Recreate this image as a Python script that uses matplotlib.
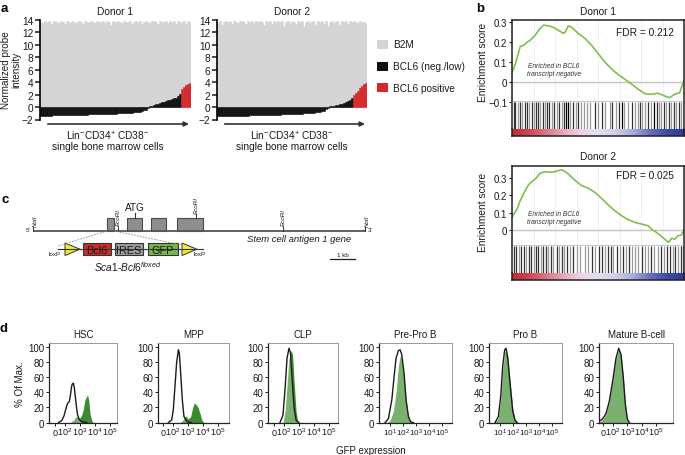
import matplotlib
matplotlib.use('Agg')
import matplotlib.pyplot as plt
import numpy as np
from matplotlib.patches import Rectangle, Polygon
from matplotlib.colors import LinearSegmentedColormap
from matplotlib.ticker import MultipleLocator

plt.rcParams['font.family'] = ['Liberation Sans', 'DejaVu Sans']
plt.rcParams['mathtext.fontset'] = 'custom'
plt.rcParams['mathtext.rm'] = 'Liberation Sans'
plt.rcParams['mathtext.it'] = 'Liberation Sans:italic'
plt.rcParams['mathtext.bf'] = 'Liberation Sans:bold'

# ======================= DATA =======================
# ---- panel a : single-cell probe intensities (sorted by BCL6) ----
donor1_b2m = [13.7, 13.5, 13.8, 13.6, 13.9, 13.4, 13.7, 13.8, 13.6, 13.5, 13.8, 13.7, 13.3, 13.8, 13.6,
              13.7, 13.9, 13.5, 13.6, 13.8, 13.7, 13.4, 13.8, 13.6, 13.7, 13.9, 13.6, 13.5, 13.8, 13.7,
              13.6, 13.9, 13.5, 13.8, 13.7, 13.2, 13.8, 13.6, 13.9, 13.7, 13.5, 13.8, 13.6, 13.7, 13.9,
              13.4, 13.7, 13.8, 13.6, 13.9, 13.3, 13.7, 13.8, 13.6, 13.5, 13.8, 13.9, 13.7, 13.4, 13.8,
              13.6, 13.7, 13.9, 13.5, 13.8, 13.7, 13.9, 13.4, 13.8, 13.6, 13.7, 13.9, 13.3, 13.8, 13.7]
donor1_bcl6 = [-1.40, -1.39, -1.38, -1.38, -1.37, -1.36, -1.35, -1.35, -1.34, -1.33, -1.32, -1.31, -1.30, -1.30, -1.29,
               -1.28, -1.27, -1.26, -1.25, -1.24, -1.23, -1.22, -1.21, -1.20, -1.19, -1.18, -1.17, -1.16, -1.15, -1.14,
               -1.13, -1.12, -1.11, -1.10, -1.09, -1.08, -1.06, -1.05, -1.03, -1.02, -1.00, -0.98, -0.96, -0.94, -0.92,
               -0.90, -0.87, -0.84, -0.80, -0.74, -0.66, -0.55, -0.40, -0.22, 0.10, 0.22, 0.32, 0.42, 0.52, 0.62,
               0.74, 0.86, 0.96, 1.06, 1.16, 1.26, 1.38, 1.52, 1.70, 2.05, 2.95, 3.25, 3.50, 3.70, 3.90]
donor1_n_positive = 5
donor2_b2m = [13.5, 13.8, 13.2, 13.7, 13.9, 13.6, 13.8, 13.4, 13.9, 13.7, 13.5, 13.8, 13.9, 13.6, 13.3,
              13.8, 13.7, 13.9, 13.5, 13.8, 13.6, 13.9, 13.7, 13.2, 13.8, 13.6, 13.9, 13.4, 13.8, 13.7,
              13.9, 13.6, 13.8, 13.1, 13.7, 13.9, 13.5, 13.8, 13.6, 13.3, 13.9, 13.7, 13.8, 12.9, 13.6,
              13.8, 13.5, 13.9, 13.7, 13.2, 13.8, 13.6, 13.9, 13.4, 13.8, 13.0, 13.7, 13.9, 13.5, 13.8,
              13.6, 13.2, 13.8, 13.7, 13.9, 13.4, 13.8, 13.6, 13.9, 13.7, 13.5, 13.8, 13.6, 13.7, 13.5]
donor2_bcl6 = [-1.48, -1.47, -1.46, -1.45, -1.45, -1.44, -1.43, -1.42, -1.42, -1.41, -1.40, -1.39, -1.38, -1.38, -1.37,
               -1.36, -1.35, -1.34, -1.33, -1.32, -1.31, -1.30, -1.29, -1.28, -1.27, -1.26, -1.25, -1.24, -1.23, -1.22,
               -1.21, -1.20, -1.19, -1.18, -1.16, -1.15, -1.14, -1.12, -1.11, -1.09, -1.08, -1.06, -1.04, -1.02, -1.00,
               -0.98, -0.95, -0.92, -0.89, -0.85, -0.81, -0.76, -0.68, -0.56, -0.38, -0.15, 0.12, 0.18, 0.24, 0.30,
               0.36, 0.44, 0.52, 0.62, 0.75, 0.92, 1.15, 1.45, 1.95, 2.30, 2.65, 3.00, 3.35, 3.65, 3.90]
donor2_n_positive = 7
intensity_ticks = [-2, 0, 2, 4, 6, 8, 10, 12, 14]
legend_labels = ['B2M', 'BCL6 (neg./low)', 'BCL6 positive']

# ---- panel b : GSEA running enrichment score ----
d1_rank = [0, 0.019, 0.048, 0.068, 0.087, 0.106, 0.135, 0.154, 0.183, 0.212,
           0.241, 0.270, 0.299, 0.309, 0.328, 0.347, 0.386, 0.425, 0.463, 0.502,
           0.541, 0.579, 0.618, 0.656, 0.695, 0.734, 0.772, 0.811, 0.849, 0.888,
           0.917, 0.946, 0.975, 0.988, 1.0]
d1_es = [0.05, 0.09, 0.18, 0.185, 0.2, 0.21, 0.235, 0.26, 0.286, 0.283,
         0.275, 0.26, 0.245, 0.25, 0.283, 0.275, 0.244, 0.219, 0.185, 0.142,
         0.1, 0.066, 0.037, 0.015, -0.01, -0.036, -0.058, -0.061, -0.056, -0.07,
         -0.078, -0.061, -0.053, -0.02, 0.007]
d1_hits = [0.010, 0.019, 0.035, 0.048, 0.058, 0.073, 0.087, 0.100, 0.116, 0.125, 0.139, 0.151, 0.164,
           0.178, 0.189, 0.203, 0.216, 0.232, 0.247, 0.261, 0.274, 0.290, 0.305, 0.315, 0.324, 0.338,
           0.357, 0.371, 0.386, 0.402, 0.417, 0.434, 0.454, 0.483, 0.498, 0.525, 0.541, 0.569, 0.583,
           0.602, 0.622, 0.637, 0.653, 0.676, 0.695, 0.714, 0.730, 0.743, 0.757, 0.776, 0.792, 0.811,
           0.826, 0.842, 0.853, 0.869, 0.884, 0.898, 0.911, 0.927, 0.942, 0.956, 0.969, 0.985]
d1_shade = [0.2, 0.2, 0.6, 0.2, 0.6, 0.2, 0.2, 0.6, 0.2, 0.6, 0.2, 0.2, 0.6,
            0.2, 0.6, 0.2, 0.2, 0.6, 0.2, 0.6, 0.2, 0.6, 0.2, 0.0, 0.0, 0.6,
            0.2, 0.6, 0.2, 0.6, 0.6, 0.6, 0.6, 0.2, 0.6, 0.2, 0.6, 0.6, 0.2,
            0.6, 0.2, 0.0, 0.6, 0.6, 0.2, 0.6, 0.6, 0.2, 0.6, 0.6, 0.2, 0.6,
            0.0, 0.2, 0.6, 0.6, 0.2, 0.6, 0.2, 0.6, 0.2, 0.6, 0.2, 0.6]
d2_rank = [0, 0.010, 0.029, 0.048, 0.068, 0.087, 0.106, 0.125, 0.145, 0.164,
           0.193, 0.222, 0.251, 0.270, 0.290, 0.309, 0.328, 0.347, 0.376, 0.405,
           0.444, 0.482, 0.521, 0.560, 0.598, 0.637, 0.676, 0.714, 0.753, 0.792,
           0.811, 0.840, 0.869, 0.898, 0.911, 0.927, 0.946, 0.965, 0.985, 1.0]
d2_es = [0.072, 0.09, 0.12, 0.17, 0.21, 0.248, 0.273, 0.287, 0.306, 0.331,
         0.339, 0.335, 0.339, 0.345, 0.35, 0.339, 0.325, 0.306, 0.28, 0.257,
         0.242, 0.218, 0.183, 0.144, 0.111, 0.082, 0.058, 0.043, 0.033, 0.023,
         0.004, -0.016, -0.039, -0.064, -0.074, -0.05, -0.055, -0.035, -0.031, 0.0]
d2_hits = [0.010, 0.023, 0.039, 0.054, 0.068, 0.081, 0.097, 0.112, 0.125, 0.139, 0.154, 0.170, 0.183,
           0.197, 0.212, 0.228, 0.241, 0.261, 0.274, 0.290, 0.305, 0.319, 0.338, 0.357, 0.376, 0.396,
           0.425, 0.444, 0.467, 0.483, 0.506, 0.525, 0.541, 0.560, 0.575, 0.589, 0.608, 0.627, 0.647,
           0.660, 0.680, 0.695, 0.714, 0.734, 0.753, 0.772, 0.792, 0.811, 0.826, 0.846, 0.865, 0.884,
           0.903, 0.919, 0.936, 0.950, 0.965, 0.981, 0.994]
d2_shade = [0.2, 0.2, 0.6, 0.2, 0.2, 0.6, 0.2, 0.2, 0.6, 0.2, 0.2, 0.6, 0.2,
            0.2, 0.6, 0.2, 0.6, 0.2, 0.6, 0.2, 0.6, 0.2, 0.6, 0.2, 0.6, 0.6,
            0.6, 0.6, 0.2, 0.6, 0.2, 0.2, 0.6, 0.2, 0.2, 0.6, 0.2, 0.6, 0.2,
            0.6, 0.2, 0.6, 0.6, 0.6, 0.2, 0.6, 0.6, 0.2, 0.6, 0.6, 0.2, 0.6,
            0.2, 0.2, 0.6, 0.2, 0.6, 0.2, 0.6]
fdr_labels = ['FDR = 0.212', 'FDR = 0.025']

# ---- panel c : Sca1 locus (kb) ----
gene_length_kb = 13.28
exon_start_kb = [2.96, 3.76, 4.72, 5.76]
exon_end_kb = [3.24, 4.36, 5.32, 6.80]
ecori_kb = [3.40, 6.52, 10.0]
noti_kb = [0.0, 13.28]
construct_parts = ['Bcl6', 'IRES', 'GFP']

# ---- panel d : GFP histograms (x in decades, y in % of max) ----
hist_titles = ['HSC', 'MPP', 'CLP', 'Pre-Pro B', 'Pro B', 'Mature B-cell']
hsc_bx = [1.56, 1.78, 1.93, 2.07, 2.16, 2.29, 2.38, 2.44, 2.49, 2.56, 2.62, 2.71, 2.82, 2.93, 3.11, 3.45]
hsc_by = [0, 2.7, 8.8, 19, 25, 28, 39, 48, 51, 52, 46, 30, 12, 4.4, 1.3, 0]
hsc_gx = [2.33, 2.56, 2.73, 2.89, 3.0, 3.11, 3.22, 3.33, 3.45, 3.51, 3.58, 3.67, 3.78, 3.89]
hsc_gy = [0, 3, 8, 7, 6, 10, 17, 30, 35, 36, 30, 12, 3, 0]
mpp_bx = [1.69, 1.91, 2.02, 2.13, 2.24, 2.36, 2.42, 2.51, 2.62, 2.73, 2.91, 3.24]
mpp_by = [0, 3.5, 17, 48, 79, 96, 92, 65, 30, 8, 1.3, 0]
mpp_gx = [2.47, 2.69, 2.84, 3.02, 3.18, 3.31, 3.42, 3.53, 3.67, 3.80, 3.93, 4.07]
mpp_gy = [0, 4, 9, 5, 8, 20, 26, 24, 20, 12, 3, 0]
clp_bx = [1.73, 1.93, 2.07, 2.2, 2.33, 2.43, 2.53, 2.67, 2.8, 3.0]
clp_by = [0, 10, 45, 85, 98, 92, 60, 20, 3, 0]
clp_gx = [1.93, 2.07, 2.2, 2.33, 2.47, 2.57, 2.67, 2.8, 2.93]
clp_gy = [0, 15, 50, 85, 95, 90, 55, 15, 0]
prepro_bx = [0.66, 0.91, 1.17, 1.34, 1.49, 1.67, 1.8, 1.92, 2.1, 2.25, 2.43, 2.6, 2.8]
prepro_by = [0, 5, 30, 60, 85, 95, 96, 90, 65, 30, 8, 1, 0]
prepro_gx = [0.79, 1.04, 1.29, 1.49, 1.67, 1.8, 1.95, 2.1, 2.25, 2.43, 2.6]
prepro_gy = [0, 3, 15, 40, 75, 88, 82, 60, 30, 8, 0]
prob_bx = [0.66, 0.91, 1.09, 1.24, 1.39, 1.49, 1.62, 1.8, 2.0, 2.17, 2.35]
prob_by = [0, 8, 35, 75, 96, 98, 85, 50, 15, 3, 0]
prob_gx = [0.66, 0.91, 1.09, 1.24, 1.39, 1.49, 1.62, 1.8, 2.0, 2.17, 2.35]
prob_gy = [0, 6, 30, 70, 92, 96, 88, 55, 18, 4, 0]
mature_bx = [1.04, 1.28, 1.51, 1.74, 1.98, 2.21, 2.40, 2.56, 2.72, 2.86, 3.0, 3.14]
mature_by = [2, 5, 12, 28, 55, 85, 98, 90, 60, 25, 5, 0]
mature_gx = [1.04, 1.28, 1.51, 1.74, 1.98, 2.21, 2.40, 2.56, 2.72, 2.86, 3.0, 3.14]
mature_gy = [1, 4, 11, 27, 54, 84, 96, 89, 60, 25, 5, 0]
pct_ticks = [0, 20, 40, 60, 80, 100]
log_labels_zero = ['0', '$10^2$', '$10^3$', '$10^4$', '$10^5$']
log_labels_ten = ['$10^1$', '$10^2$', '$10^3$', '$10^4$', '$10^5$']

# ======================= FIGURE =======================
W, H = 685, 456
fig = plt.figure(figsize=(W / 100, H / 100), dpi=100)


def pax(x0, y0, x1, y1):
    return fig.add_axes([x0 / W, 1 - y1 / H, (x1 - x0) / W, (y1 - y0) / H])


def ftext(x, y, s, **kw):
    kw.setdefault('ha', 'center')
    kw.setdefault('va', 'center')
    return fig.text(x / W, 1 - y / H, s, **kw)


GRAY = '#d4d4d4'
BLACK = '#111111'
RED = '#d42a2a'
TXT = '#1a1a1a'

# panel labels
for lab, (lx, ly) in zip('abcd', [(4, 9), (480, 9), (5, 200), (4, 329)]):
    ftext(lx, ly, lab, fontsize=9.5, fontweight='bold', color='black')


# ---------------- panel a ----------------
def panel_a(x0, x1, b2m, bcl6, npos, title, title_x, label_x):
    ax = pax(x0, 21, x1, 120.5)
    n = len(b2m)
    idx = np.arange(n)
    ax.bar(idx, b2m, width=1.0, color=GRAY, edgecolor=GRAY, linewidth=0.4)
    cols = [BLACK] * (n - npos) + [RED] * npos
    ax.bar(idx, bcl6, width=1.0, color=cols, edgecolor=cols, linewidth=0.4)
    ax.set_xlim(-0.5, n - 0.5)
    ax.set_ylim(-2, 14)
    for s in ['top', 'right', 'bottom']:
        ax.spines[s].set_visible(False)
    ax.spines['left'].set_linewidth(1.2)
    ax.set_xticks([])
    ax.set_yticks(intensity_ticks)
    ax.set_yticklabels([f'{t}' if t >= 0 else f'\u2212{abs(t)}' for t in intensity_ticks])
    ax.tick_params(axis='y', length=3.5, width=1.1, labelsize=7.3, pad=1.5, colors=TXT)
    ax.annotate('', xy=(1.005, -0.045), xytext=(0.033, -0.045), xycoords='axes fraction',
                arrowprops=dict(arrowstyle='-|>', color='#333333', lw=1.2, mutation_scale=7),
                annotation_clip=False)
    ftext(title_x, 12, title, fontsize=7.3, color=TXT)
    ftext(label_x, 136, r'Lin$^{-}$CD34$^{+}$ CD38$^{-}$', fontsize=7.3, color=TXT)
    ftext(label_x, 147, 'single bone marrow cells', fontsize=7.3, color=TXT)


panel_a(40, 191, donor1_b2m, donor1_bcl6, donor1_n_positive, 'Donor 1', 115, 108)
panel_a(217, 367, donor2_b2m, donor2_bcl6, donor2_n_positive, 'Donor 2', 292, 292)
ftext(11.5, 70, 'Normalized probe\nintensity', rotation=90, fontsize=7.1, color=TXT, linespacing=1.05)

for lab, col, ly in zip(legend_labels, [GRAY, BLACK, RED], [45.5, 67.5, 88.5]):
    fig.add_artist(Rectangle((377 / W, 1 - (ly + 4.5) / H), 11 / W, 9 / H,
                             transform=fig.transFigure, facecolor=col, edgecolor='none'))
    ftext(393, ly, lab, ha='left', fontsize=7.2, color=TXT)

# ---------------- panel b ----------------
gsea_cmap = LinearSegmentedColormap.from_list(
    'gsea', ['#c02a36', '#cf4654', '#dc7886', '#e8a9ba', '#eed6e6', '#e4def0',
             '#cfcfea', '#a9abdc', '#6670c0', '#3e4aa8', '#2c3a9c'])


def gsea(y_top, y_sep, y_bar, y_bot, ylim, yticks, yticklabels, ranks, es, hits, shade,
         title_y, fdr, fdr_y, note_y, ylabel_y, title):
    ax1 = pax(512, y_top, 684, y_sep)
    ax1.set_xlim(0, 1)
    ax1.set_ylim(*ylim)
    ax1.xaxis.set_major_locator(MultipleLocator(0.125))
    ax1.grid(axis='x', color='#efefef', lw=0.6)
    ax1.set_axisbelow(True)
    ax1.axhline(0, color='#c4c4c4', lw=1.0)
    ax1.plot(ranks, es, color='#7fc04c', lw=1.2)
    ax1.tick_params(axis='x', length=0, labelbottom=False)
    ax1.set_yticks(yticks)
    ax1.set_yticklabels(yticklabels)
    ax1.tick_params(axis='y', length=2, pad=1.5, labelsize=7, colors=TXT)
    for s in ['top', 'left', 'right']:
        ax1.spines[s].set_linewidth(1.1)
        ax1.spines[s].set_color('#222222')
    ax1.spines['bottom'].set_color('#c0c0c0')
    ax1.spines['bottom'].set_linewidth(2.0)
    ax2 = pax(512, y_sep, 684, y_bar)
    ax2.vlines(hits, 0, 1, colors=[str(s) for s in shade], lw=0.9)
    ax2.set_xlim(0, 1)
    ax2.set_ylim(0, 1)
    ax2.set_xticks([])
    ax2.set_yticks([])
    for s in ['top', 'bottom']:
        ax2.spines[s].set_visible(False)
    for s in ['left', 'right']:
        ax2.spines[s].set_linewidth(1.1)
        ax2.spines[s].set_color('#222222')
    ax3 = pax(512, y_bar, 684, y_bot)
    ax3.imshow(np.linspace(0, 1, 256)[None, :], aspect='auto', cmap=gsea_cmap,
               extent=(0, 1, 0, 1))
    ax3.set_xticks([])
    ax3.set_yticks([])
    ax3.spines['top'].set_visible(False)
    for s in ['left', 'right', 'bottom']:
        ax3.spines[s].set_linewidth(1.1)
        ax3.spines[s].set_color('#222222')
    ftext(598, title_y, title, fontsize=7.3, color=TXT)
    ftext(674, fdr_y, fdr, ha='right', fontsize=7.3, color=TXT)
    ftext(554, note_y, 'Enriched in BCL6\ntranscript negative', fontsize=4.8, style='italic',
          color='#333333', linespacing=1.2)
    ftext(483, ylabel_y, 'Enrichment score', rotation=90, fontsize=7.3, color=TXT)


gsea(21, 103, 130, 137, (-0.1, 0.312), [-0.1, 0, 0.1, 0.2, 0.3],
     ['\u22120.1', '0', '0.1', '0.2', '0.3'], d1_rank, d1_es, d1_hits, d1_shade,
     12, fdr_labels[0], 33, 71, 62, 'Donor 1')
gsea(167, 247, 274, 281, (-0.095, 0.372), [0, 0.1, 0.2, 0.3],
     ['0', '0.1', '0.2', '0.3'], d2_rank, d2_es, d2_hits, d2_shade,
     157, fdr_labels[1], 176, 218, 212, 'Donor 2')

# ---------------- panel c ----------------
KB = 25.0   # pixels per kb
axc = pax(0, 180, 480, 285)
axc.set_xlim(-33 / KB, (480 - 33) / KB)
axc.set_ylim(285, 180)
axc.axis('off')
axc.plot([0, gene_length_kb], [232, 232], color='#555555', lw=1.3, solid_capstyle='butt')
for s, e in zip(exon_start_kb, exon_end_kb):
    axc.add_patch(Rectangle((s, 219), e - s, 13, facecolor='#8e8e8e', edgecolor='#4a4a4a', lw=0.8))
atg_x = (exon_start_kb[1] + exon_end_kb[1]) / 2
axc.plot([atg_x, atg_x], [219, 214], color='#333333', lw=0.8)
axc.text(atg_x, 213, 'ATG', ha='center', va='bottom', fontsize=7.2, color=TXT)
for site in ecori_kb:
    in_exon = any(s <= site <= e for s, e in zip(exon_start_kb, exon_end_kb))
    base = 219 if in_exon else 232
    axc.plot([site, site], [base, base - 4.5], color='#333333', lw=0.7)
    axc.text(site, base - 5.5, 'EcoRI', rotation=90, ha='center', va='bottom',
             fontsize=4.5, style='italic', color=TXT)
for site in noti_kb:
    axc.plot([site, site], [232, 228], color='#333333', lw=0.7)
    axc.text(site + 0.08, 227, 'NotI', rotation=90, ha='center', va='bottom',
             fontsize=4.5, style='italic', color=TXT)
axc.text(-0.12, 231, "5'", ha='right', va='center', fontsize=4.5, color=TXT)
axc.text(gene_length_kb + 0.12, 231, "3'", ha='left', va='center', fontsize=4.5, color=TXT)
axc.text(8.56, 240, 'Stem cell antigen 1 gene', ha='left', va='center', fontsize=6.8,
         style='italic', color=TXT)
# construct
axc.plot([1.0, 6.8], [250, 250], color='#333333', lw=0.8)
axc.plot([1.0, exon_start_kb[0]], [247, 232], color='#888888', lw=0.6, ls=(0, (2, 1.5)))
axc.plot([exon_end_kb[0], 5.96], [232, 246], color='#888888', lw=0.6, ls=(0, (2, 1.5)))
part_cols = ['#cc2c2a', '#9c9c9c', '#74b84c']
part_span = [(2.0, 3.12), (3.28, 4.40), (4.60, 5.80)]
for name, col, (a0, a1) in zip(construct_parts, part_cols, part_span):
    axc.add_patch(Rectangle((a0, 244), a1 - a0, 12, facecolor=col, edgecolor='#333333', lw=0.8))
    axc.text((a0 + a1) / 2, 250.5, name, ha='center', va='center', fontsize=7.8, color=TXT)
for t0, t1 in [(1.28, 1.88), (5.96, 6.56)]:
    axc.add_patch(Polygon([(t0, 244), (t0, 256.5), (t1, 250.2)], closed=True,
                          facecolor='#f3e63c', edgecolor='#333333', lw=0.7))
axc.text(0.88, 255, 'loxP', ha='center', va='center', fontsize=4.5, color=TXT)
axc.text(6.68, 255, 'loxP', ha='center', va='center', fontsize=4.5, color=TXT)
axc.text(2.45, 267, r'$Sca1$-$Bcl6^{floxed}$', ha='left', va='center', fontsize=7.3, color=TXT)
axc.plot([11.88, 12.88], [260, 260], color='#222222', lw=0.9)
axc.text(12.38, 258, '1 kb', ha='center', va='bottom', fontsize=4.5, color=TXT)

# ---------------- panel d ----------------
GREEN = '#3d8b2f'


def hist(x0, x1, xlim, ticks, ticklabels, bx, by, gx, gy, title, xlabelsize=6.5):
    ax = pax(x0, 344, x1, 424)
    ax.fill_between(gx, gy, 0, color=GREEN, lw=0)
    ax.fill_between(bx, by, 0, color='white', alpha=0.32, lw=0)
    ax.plot(bx, by, color='#1a1a1a', lw=1.0)
    ax.set_xlim(*xlim)
    ax.set_ylim(-0.5, 105)
    ax.set_yticks(pct_ticks)
    ax.set_xticks(ticks)
    ax.set_xticklabels(ticklabels)
    ax.tick_params(axis='y', length=2, width=0.7, pad=1.5, labelsize=7, colors=TXT)
    ax.tick_params(axis='x', length=2, width=0.7, pad=7.0, labelsize=xlabelsize, colors=TXT)
    for lab in ax.get_xticklabels():
        lab.set_verticalalignment('baseline')
    for s in ['left', 'bottom']:
        ax.spines[s].set_color('#222222')
        ax.spines[s].set_linewidth(0.9)
    for s in ['top', 'right']:
        ax.spines[s].set_color('#9a9a9a')
        ax.spines[s].set_linewidth(0.7)
    ax.set_title(title, fontsize=7, pad=4, color=TXT)


hist(49, 117, (0.93, 5.47), [1.33, 2, 3, 4, 5], log_labels_zero, hsc_bx, hsc_by, hsc_gx, hsc_gy, hist_titles[0])
hist(158, 229, (1.0, 5.73), [1.33, 2, 3, 4, 5], log_labels_zero, mpp_bx, mpp_by, mpp_gx, mpp_gy, hist_titles[1])
hist(268, 338, (0.93, 5.6), [1.33, 2, 3, 4, 5], log_labels_zero, clp_bx, clp_by, clp_gx, clp_gy, hist_titles[2])
hist(379, 452, (0.2, 5.73), [1, 2, 3, 4, 5], log_labels_ten, prepro_bx, prepro_by, prepro_gx, prepro_gy,
     hist_titles[3], xlabelsize=5.9)
hist(489, 562, (0.2, 5.73), [1, 2, 3, 4, 5], log_labels_ten, prob_bx, prob_by, prob_gx, prob_gy,
     hist_titles[4], xlabelsize=5.9)
hist(599, 673, (1.02, 6.2), [1.32, 2, 3, 4, 5], log_labels_zero, mature_bx, mature_by, mature_gx, mature_gy, hist_titles[5])
ftext(20, 384, '% Of Max.', rotation=90, fontsize=7, color=TXT)
ftext(371, 451, 'GFP expression', fontsize=7, color=TXT)

fig.savefig('out.png', dpi=100)
